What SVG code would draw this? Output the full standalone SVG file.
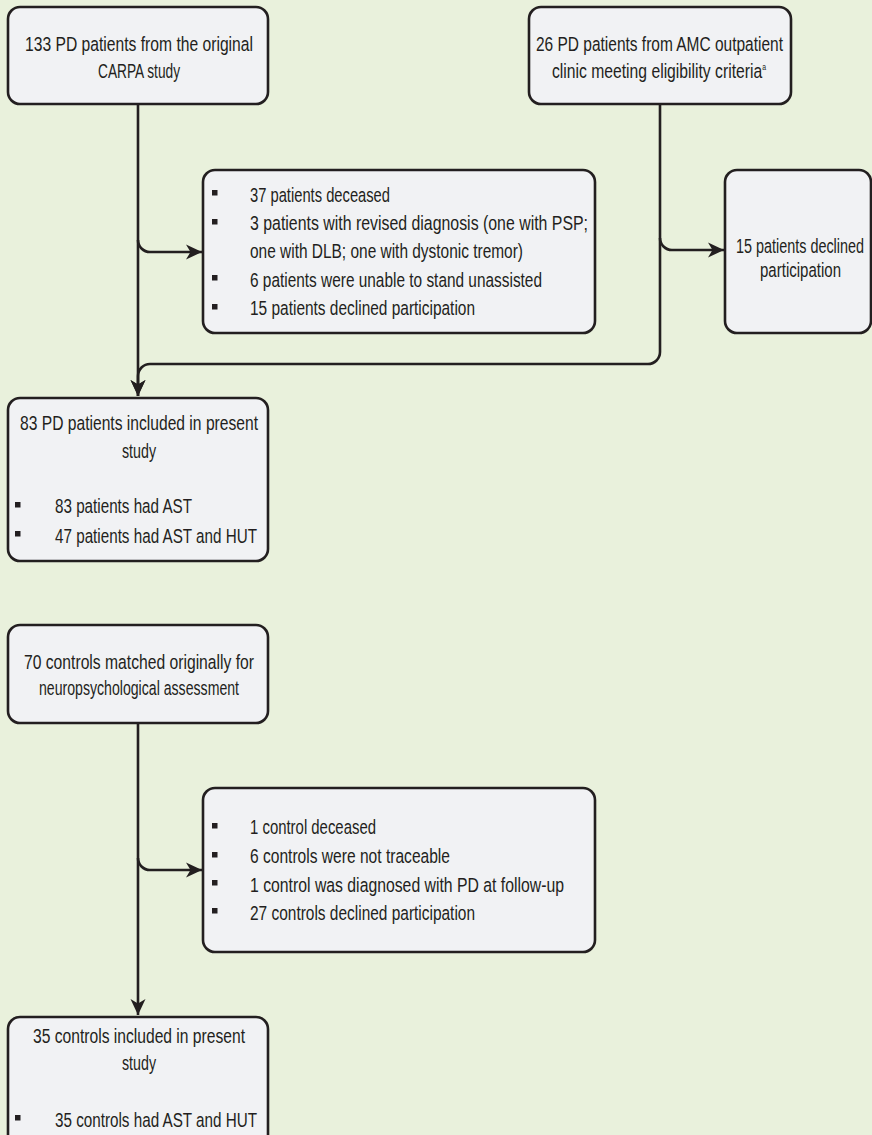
<svg xmlns="http://www.w3.org/2000/svg" width="872" height="1135" viewBox="0 0 872 1135">
  <style>
    .box { fill: #f1f2f4; stroke: #231f20; stroke-width: 2.6; }
    .txt { font-family: "Liberation Sans", Arial, sans-serif; font-size: 20.5px; fill: #231f20; }
    .sup { font-size: 9px; }
    .bul { fill: #231f20; }
    .conn { fill: none; stroke: #231f20; stroke-width: 2.6; }
  </style>
  <defs>
    <marker id="arr" markerUnits="userSpaceOnUse" markerWidth="18" markerHeight="18" viewBox="0 0 18 18" refX="17" refY="9" orient="auto">
      <path d="M1,1.5 L17,9 L1,16.5 L5.5,9 Z" fill="#231f20"/>
    </marker>
  </defs>

  <rect width="872" height="1135" fill="#e9f1dc"/>

  <!-- connectors -->
  <g id="connectors">
    <path class="conn" d="M138,104 V396" marker-end="url(#arr)"/>
    <path class="conn" d="M138,240 a12,12 0 0 0 12,12 H202" marker-end="url(#arr)"/>
    <path class="conn" d="M660,104 V352 a12,12 0 0 1 -12,12 H150 a12,12 0 0 0 -12,12 V396" marker-end="url(#arr)"/>
    <path class="conn" d="M660,238 a12,12 0 0 0 12,12 H724" marker-end="url(#arr)"/>
    <path class="conn" d="M138,723 V1015" marker-end="url(#arr)"/>
    <path class="conn" d="M138,858 a12,12 0 0 0 12,12 H202" marker-end="url(#arr)"/>
  </g>

  <!-- source: CARPA cohort -->
  <g id="carpa">
    <rect class="box" x="8" y="7" width="260" height="97" rx="12"/>
    <text class="txt" x="25" y="51" textLength="228" lengthAdjust="spacingAndGlyphs">133 PD patients from the original</text>
    <text class="txt" x="98" y="78" textLength="82" lengthAdjust="spacingAndGlyphs">CARPA study</text>
  </g>

  <!-- source: AMC outpatient clinic -->
  <g id="amc">
    <rect class="box" x="529" y="7" width="262" height="97" rx="12"/>
    <text class="txt" x="536" y="51" textLength="247" lengthAdjust="spacingAndGlyphs">26 PD patients from AMC outpatient</text>
    <text class="txt" x="552" y="78" textLength="214" lengthAdjust="spacingAndGlyphs">clinic meeting eligibility criteria<tspan class="sup" dy="-8">a</tspan></text>
  </g>

  <!-- exclusions from CARPA cohort -->
  <g id="carpa-excluded">
    <rect class="box" x="203" y="170" width="392" height="163" rx="12"/>
    <rect class="bul" x="212" y="190" width="5.5" height="5.5"/>
    <rect class="bul" x="212" y="219" width="5.5" height="5.5"/>
    <rect class="bul" x="212" y="275" width="5.5" height="5.5"/>
    <rect class="bul" x="212" y="304" width="5.5" height="5.5"/>
    <text class="txt" x="250" y="202" textLength="140" lengthAdjust="spacingAndGlyphs">37 patients deceased</text>
    <text class="txt" x="250" y="230" textLength="338" lengthAdjust="spacingAndGlyphs">3 patients with revised diagnosis (one with PSP;</text>
    <text class="txt" x="250" y="258" textLength="273" lengthAdjust="spacingAndGlyphs">one with DLB; one with dystonic tremor)</text>
    <text class="txt" x="250" y="287" textLength="292" lengthAdjust="spacingAndGlyphs">6 patients were unable to stand unassisted</text>
    <text class="txt" x="250" y="315" textLength="225" lengthAdjust="spacingAndGlyphs">15 patients declined participation</text>
  </g>

  <!-- exclusions from AMC clinic -->
  <g id="amc-excluded">
    <rect class="box" x="725" y="170" width="146" height="163" rx="12"/>
    <text class="txt" x="736" y="253" textLength="128" lengthAdjust="spacingAndGlyphs">15 patients declined</text>
    <text class="txt" x="760" y="277" textLength="81" lengthAdjust="spacingAndGlyphs">participation</text>
  </g>

  <!-- included PD patients -->
  <g id="pd-included">
    <rect class="box" x="8" y="398" width="260" height="163" rx="12"/>
    <text class="txt" x="20" y="430" textLength="238" lengthAdjust="spacingAndGlyphs">83 PD patients included in present</text>
    <text class="txt" x="122" y="458" textLength="34" lengthAdjust="spacingAndGlyphs">study</text>
    <rect class="bul" x="15" y="502" width="5.5" height="5.5"/>
    <rect class="bul" x="15" y="531" width="5.5" height="5.5"/>
    <text class="txt" x="55" y="513" textLength="137" lengthAdjust="spacingAndGlyphs">83 patients had AST</text>
    <text class="txt" x="55" y="543" textLength="202" lengthAdjust="spacingAndGlyphs">47 patients had AST and HUT</text>
  </g>

  <!-- matched controls -->
  <g id="controls">
    <rect class="box" x="8" y="625" width="260" height="98" rx="12"/>
    <text class="txt" x="24" y="669" textLength="230" lengthAdjust="spacingAndGlyphs">70 controls matched originally for</text>
    <text class="txt" x="39" y="695" textLength="200" lengthAdjust="spacingAndGlyphs">neuropsychological assessment</text>
  </g>

  <!-- exclusions from controls -->
  <g id="controls-excluded">
    <rect class="box" x="203" y="788" width="392" height="164" rx="12"/>
    <rect class="bul" x="212" y="823" width="5.5" height="5.5"/>
    <rect class="bul" x="212" y="852" width="5.5" height="5.5"/>
    <rect class="bul" x="212" y="880" width="5.5" height="5.5"/>
    <rect class="bul" x="212" y="908" width="5.5" height="5.5"/>
    <text class="txt" x="250" y="834" textLength="126" lengthAdjust="spacingAndGlyphs">1 control deceased</text>
    <text class="txt" x="250" y="863" textLength="200" lengthAdjust="spacingAndGlyphs">6 controls were not traceable</text>
    <text class="txt" x="250" y="892" textLength="314" lengthAdjust="spacingAndGlyphs">1 control was diagnosed with PD at follow-up</text>
    <text class="txt" x="250" y="920" textLength="225" lengthAdjust="spacingAndGlyphs">27 controls declined participation</text>
  </g>

  <!-- included controls -->
  <g id="controls-included">
    <rect class="box" x="8" y="1017" width="260" height="130" rx="12"/>
    <text class="txt" x="33" y="1043" textLength="212" lengthAdjust="spacingAndGlyphs">35 controls included in present</text>
    <text class="txt" x="122" y="1070" textLength="34" lengthAdjust="spacingAndGlyphs">study</text>
    <rect class="bul" x="15" y="1115" width="5.5" height="5.5"/>
    <text class="txt" x="55" y="1127" textLength="202" lengthAdjust="spacingAndGlyphs">35 controls had AST and HUT</text>
  </g>
</svg>
